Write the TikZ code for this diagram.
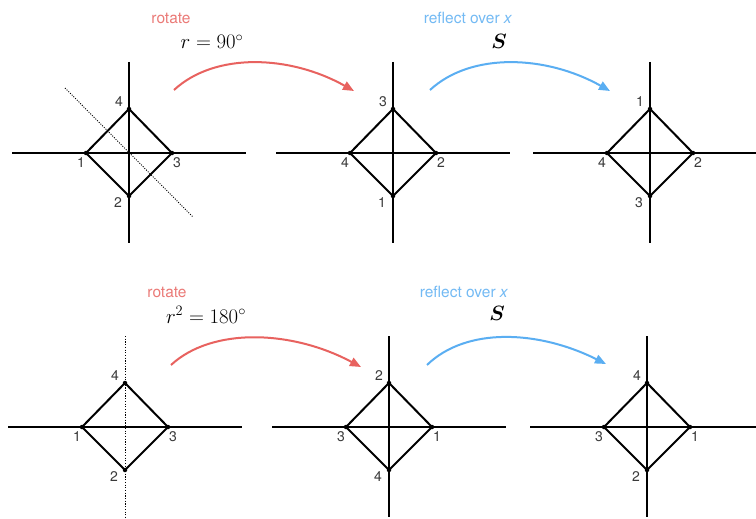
\documentclass[tikz,border=0pt]{standalone}
\usepackage[no-math]{fontspec}
\newfontfamily\hv{TeX Gyre Heros}
\usepackage{amsmath}
\usetikzlibrary{arrows.meta}
\definecolor{rotred}{HTML}{E8625F}
\definecolor{refblue}{HTML}{5AAEF2}
\definecolor{lblgray}{HTML}{3A3A3A}
\tikzset{
  axisline/.style={line width=1.1pt, black},
  dotaxis/.style={line width=1pt, black, dash pattern=on 1.2pt off 1.5pt},
  dotdiag/.style={line width=0.9pt, black, dash pattern=on 1pt off 1.4pt},
  sqline/.style={line width=2pt, black, line join=miter},
  vtx/.style={circle, fill=black, inner sep=0pt, minimum size=4.5pt},
  num/.style={font=\hv\fontsize{14}{16}\selectfont, text=lblgray, inner sep=0pt},
  capr/.style={font=\hv\fontsize{15.5}{18}\selectfont, text=rotred!85, inner sep=0pt},
  capb/.style={font=\hv\fontsize{15.5}{18}\selectfont, text=refblue!85, inner sep=0pt},
  mth/.style={font=\fontsize{20.5}{24}\selectfont, inner sep=0pt},
  rarr/.style={rotred, line width=2pt, -{Triangle[length=11pt,width=9pt]}},
  barr/.style={refblue, line width=2pt, -{Triangle[length=11pt,width=9pt]}}
}
% #1 name, #2 cx, #3 cy, #4 top, #5 left, #6 right, #7 bottom, #8 vertical axis style
\newcommand\sqfig[8]{%
  \begin{scope}[shift={(#2,#3)}]
    \coordinate (#1c) at (0,0);
    \coordinate (#1hl) at (-117,0);
    \coordinate (#1hr) at (117,0);
    \coordinate (#1vt) at (0,-91);
    \coordinate (#1vb) at (0,90);
    \draw[axisline] (#1hl) -- (#1hr);
    \draw[#8] (#1vt) -- (#1vb);
    \node[vtx] (#1t) at (0,-44) {};
    \node[vtx] (#1l) at (-43,0) {};
    \node[vtx] (#1r) at (43,0) {};
    \node[vtx] (#1b) at (0,43) {};
    \draw[sqline] (#1t.center) -- (#1r.center) -- (#1b.center) -- (#1l.center) -- cycle;
    \node[num] (#1nt) at (-10,-51) {#4};
    \node[num] (#1nl) at (-48,10) {#5};
    \node[num] (#1nr) at (48,10) {#6};
    \node[num] (#1nb) at (-11,50) {#7};
  \end{scope}}
\begin{document}
\begin{tikzpicture}[x=1pt,y=-1pt]
\clip (0,0) rectangle (756,519);
\fill[white] (0,0) rectangle (756,519);
% top row
\sqfig{a}{129}{153}{4}{1}{3}{2}{axisline}
\coordinate (ad1) at (65,88);
\coordinate (ad2) at (193,217);
\draw[dotdiag] (ad1) -- (ad2);
\sqfig{b}{393}{153}{3}{4}{2}{1}{axisline}
\sqfig{c}{650}{153}{1}{4}{2}{3}{axisline}
% bottom row
\sqfig{d}{125}{427}{4}{1}{3}{2}{dotaxis}
\sqfig{e}{389}{427}{2}{3}{1}{4}{axisline}
\sqfig{f}{647}{427}{4}{3}{1}{2}{axisline}
% captions top
\node[capr] (t1) at (171,18) {rotate};
\node[mth] (m1) at (212,42) {$r=90^\circ$};
\node[capb] (t2) at (468,18) {reflect over \textit{x}};
\node[mth] (m2) at (499,41) {$\boldsymbol{S}$};
% captions bottom
\node[capr] (t3) at (167,292) {rotate};
\node[mth] (m3) at (206,315) {$r^2=180^\circ$};
\node[capb] (t4) at (464,292) {reflect over \textit{x}};
\node[mth] (m4) at (497,313) {$\boldsymbol{S}$};
% arrows
\coordinate (ra1) at (174,90);
\coordinate (ra2) at (354,91);
\draw[rarr] (ra1) .. controls (215,52) and (290,55) .. (ra2);
\coordinate (ba1) at (430,90);
\coordinate (ba2) at (610,91);
\draw[barr] (ba1) .. controls (471,52) and (546,55) .. (ba2);
\coordinate (rb1) at (171,365);
\coordinate (rb2) at (361,367);
\draw[rarr] (rb1) .. controls (212,327) and (292,330) .. (rb2);
\coordinate (bb1) at (427,365);
\coordinate (bb2) at (606,364);
\draw[barr] (bb1) .. controls (466,327) and (538,330) .. (bb2);
\end{tikzpicture}
\end{document}
